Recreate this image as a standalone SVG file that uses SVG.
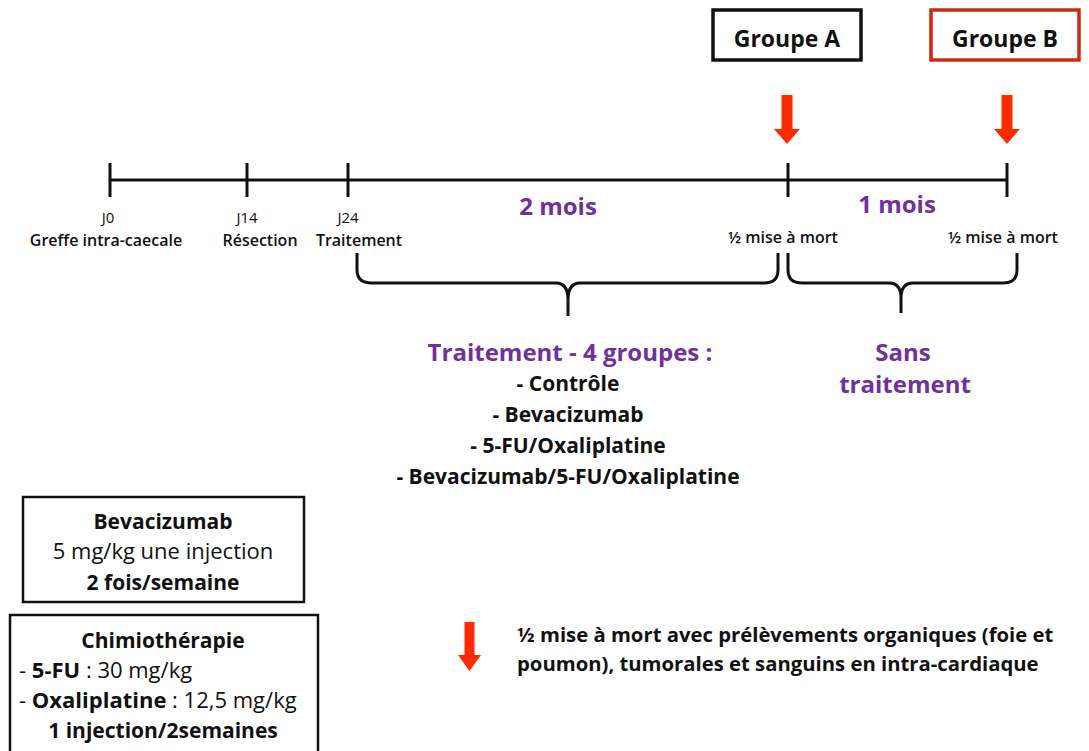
<svg xmlns="http://www.w3.org/2000/svg" width="1089" height="751" viewBox="0 0 1089 751">
<defs>
<style>
text{font-family:"Open Sans","Liberation Sans",sans-serif;fill:#111}
.b{font-weight:bold}
.p{fill:#7030A0;font-weight:bold}
.sm{font-size:15px}
.smb{font-size:16px;font-weight:600}
.ln{stroke:#111;stroke-width:3;fill:none}
.br{stroke:#111;stroke-width:3;fill:none;stroke-linejoin:round}
.arr{fill:#FF2A00}
.box{fill:#fff;stroke:#111;stroke-width:2.5}
</style>
<path id="redarrow" class="arr" d="M-5.5,0 H5.5 V34 H13 L0,49 L-13,34 H-5.5 Z"/>
</defs>
<rect width="1089" height="751" fill="#fff"/>

<g id="groupeA">
<rect x="713" y="10" width="148" height="50" fill="#fff" stroke="#111" stroke-width="3.5"/>
<text x="787" y="47" text-anchor="middle" class="b" font-size="23">Groupe A</text>
</g>
<g id="groupeB">
<rect x="931" y="10" width="148" height="50" fill="#fff" stroke="#CC2A10" stroke-width="3.5"/>
<text x="1005" y="47" text-anchor="middle" class="b" font-size="23">Groupe B</text>
</g>

<g id="connectors">
<use href="#redarrow" x="787" y="95"/>
<use href="#redarrow" x="1007" y="95"/>
<line class="ln" x1="110" y1="180" x2="1007" y2="180"/>
<line class="ln" x1="110" y1="163" x2="110" y2="197" stroke-width="2"/>
<line class="ln" x1="247" y1="163" x2="247" y2="197" stroke-width="2"/>
<line class="ln" x1="348" y1="163" x2="348" y2="197" stroke-width="2"/>
<line class="ln" x1="788" y1="163" x2="788" y2="197" stroke-width="2"/>
<line class="ln" x1="1007" y1="163" x2="1007" y2="197" stroke-width="2"/>
<path class="br" d="M357,253 V270 Q357,283 372,283 H556 Q568,283 568,300 V316 M568,300 Q568,283 580,283 H764 Q778,283 778,270 V253"/>
<path class="br" d="M788,253 V270 Q788,283 802,283 H889 Q901,283 901,298 V313 M901,298 Q901,283 913,283 H1003 Q1017,283 1017,270 V253"/>
</g>

<g id="timeline-labels">
<text x="108" y="223" text-anchor="middle" class="sm">J0</text>
<text x="106" y="246" text-anchor="middle" class="smb">Greffe intra-caecale</text>
<text x="247" y="223" text-anchor="middle" class="sm">J14</text>
<text x="260" y="246" text-anchor="middle" class="smb">Résection</text>
<text x="348" y="223" text-anchor="middle" class="sm">J24</text>
<text x="359" y="246" text-anchor="middle" class="smb">Traitement</text>
<text x="558" y="215" text-anchor="middle" class="p" font-size="24">2 mois</text>
<text x="897" y="213" text-anchor="middle" class="p" font-size="24">1 mois</text>
<text x="783" y="243" text-anchor="middle" class="smb">½ mise à mort</text>
<text x="1003" y="243" text-anchor="middle" class="smb">½ mise à mort</text>
</g>

<g id="traitement">
<text x="570" y="361" text-anchor="middle" class="p" font-size="24">Traitement - 4 groupes :</text>
<text x="568" y="391" text-anchor="middle" class="b" font-size="21">- Contrôle</text>
<text x="568" y="422" text-anchor="middle" class="b" font-size="21">- Bevacizumab</text>
<text x="568" y="453" text-anchor="middle" class="b" font-size="21">- 5-FU/Oxaliplatine</text>
<text x="568" y="484" text-anchor="middle" class="b" font-size="21">- Bevacizumab/5-FU/Oxaliplatine</text>
</g>

<g id="sans-traitement">
<text x="903" y="361" text-anchor="middle" class="p" font-size="24">Sans</text>
<text x="905" y="393" text-anchor="middle" class="p" font-size="24">traitement</text>
</g>

<g id="box-bevacizumab">
<rect class="box" x="23" y="497" width="281" height="105"/>
<text x="163" y="529" text-anchor="middle" class="b" font-size="21">Bevacizumab</text>
<text x="163" y="559" text-anchor="middle" font-size="22">5 mg/kg une injection</text>
<text x="163" y="590" text-anchor="middle" class="b" font-size="21">2 fois/semaine</text>
</g>

<g id="box-chimio">
<rect class="box" x="10" y="615" width="308" height="145"/>
<text x="163" y="648" text-anchor="middle" class="b" font-size="21">Chimiothérapie</text>
<text x="19" y="678" font-size="22">- <tspan class="b">5-FU</tspan> : 30 mg/kg</text>
<text x="19" y="708" font-size="22">- <tspan class="b">Oxaliplatine</tspan> : 12,5 mg/kg</text>
<text x="163" y="738" text-anchor="middle" class="b" font-size="21">1 injection/2semaines</text>
</g>

<g id="legende">
<path class="arr" d="M464.5,622 H474.5 V655 H481 L469.5,671 L458,655 H464.5 Z"/>
<text x="517" y="642" class="b" font-size="20.3">½ mise à mort avec prélèvements organiques (foie et</text>
<text x="517" y="671" class="b" font-size="20.3">poumon), tumorales et sanguins en intra-cardiaque</text>
</g>
</svg>
